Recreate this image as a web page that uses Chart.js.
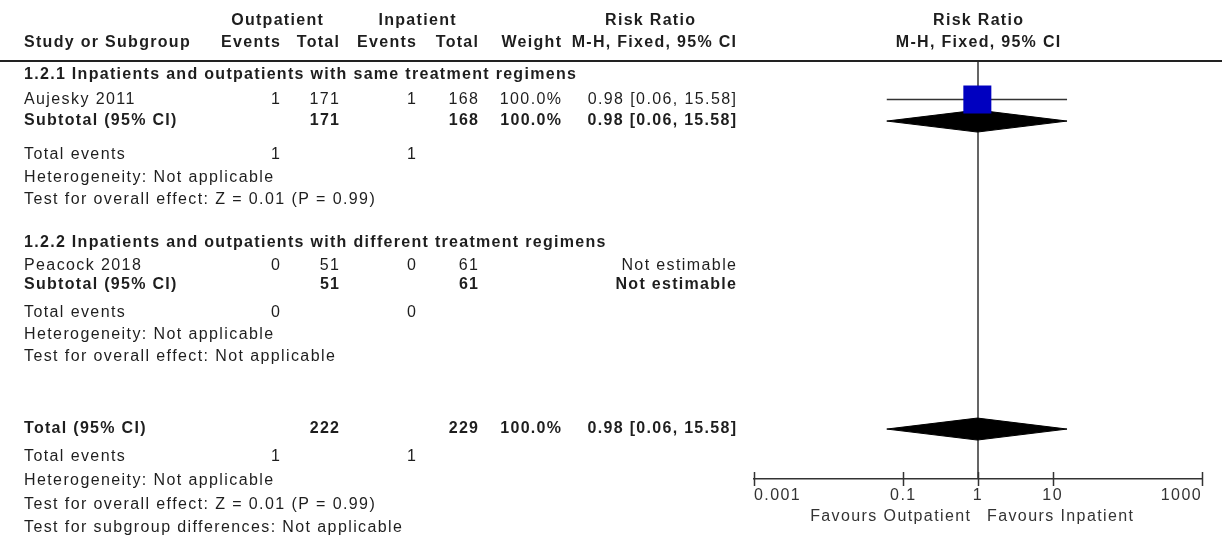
<!DOCTYPE html>
<html>
<head>
<meta charset="utf-8">
<title>Forest plot - Outpatient vs Inpatient</title>
<script src="https://cdn.jsdelivr.net/npm/chart.js@4.4.1/dist/chart.umd.min.js"></script>
<style>
  html, body { margin: 0; padding: 0; background: #fff; }
  #wrap { width: 1224px; height: 542px; position: relative; }
</style>
</head>
<body>
<div id="wrap"><canvas id="forest"></canvas></div>
<script>
// --- data ---
var tickValues = [0.001, 0.1, 1, 10, 1000];

var groupTitles = [
    "1.2.1 Inpatients and outpatients with same treatment regimens",
    "1.2.2 Inpatients and outpatients with different treatment regimens"
];
var groupTitleRows = [0.64, 8.27];

var studyNames = ["Aujesky 2011", "Peacock 2018"];
var studyRows = [1.75, 9.32];
var studyOutEvents = [1, 0];
var studyOutTotal = [171, 51];
var studyInEvents = [1, 0];
var studyInTotal = [168, 61];
var studyWeights = ["100.0%", ""];
var studyRR = [0.98, null];
var studyLower = [0.06, null];
var studyUpper = [15.58, null];

var subtotalLabels = ["Subtotal (95% CI)", "Subtotal (95% CI)", "Total (95% CI)"];
var subtotalRows = [2.73, 10.18, 16.73];
var subtotalOutTotal = [171, 51, 222];
var subtotalInTotal = [168, 61, 229];
var subtotalWeights = ["100.0%", "", "100.0%"];
var subtotalRR = [0.98, null, 0.98];
var subtotalLower = [0.06, null, 0.06];
var subtotalUpper = [15.58, null, 15.58];

var eventsRows = [4.27, 11.45, 18.0];
var eventsOut = [1, 0, 1];
var eventsIn = [1, 0, 1];

var noteRows = [5.32, 6.32, 12.45, 13.45, 19.09, 20.18, 21.23];
var noteTexts = [
    "Heterogeneity: Not applicable",
    "Test for overall effect: Z = 0.01 (P = 0.99)",
    "Heterogeneity: Not applicable",
    "Test for overall effect: Not applicable",
    "Heterogeneity: Not applicable",
    "Test for overall effect: Z = 0.01 (P = 0.99)",
    "Test for subgroup differences: Not applicable"
];

var headerRows = [-1.82, -0.82];
var favoursLabels = ["Favours Outpatient", "Favours Inpatient"];

// --- layout of the table columns (right edges, px) ---
var COL = { label: 24, outEv: 280, outTot: 339, inEv: 416, inTot: 478, weight: 561, ci: 736 };
var FONT = "'Liberation Sans', Arial, sans-serif";
var TEXT = "#1e1e1e";
var DIAMOND_H = 0.5;

function ciText(rr, lo, hi) {
    if (rr === null) return "Not estimable";
    return rr.toFixed(2) + " [" + lo.toFixed(2) + ", " + hi.toFixed(2) + "]";
}

function put(ctx, s, x, y, align, bold, color) {
    var ls = bold ? 1.3 : 1.4;
    ctx.font = (bold ? "bold " : "") + "16px " + FONT;
    ctx.letterSpacing = ls + "px";
    ctx.fillStyle = color || TEXT;
    ctx.textAlign = align;
    ctx.textBaseline = "middle";
    var dx = align === "right" ? ls : (align === "center" ? ls / 2 : 0);
    ctx.fillText(String(s), x + dx, y);
}

// --- datasets ---
var datasets = [];

// study squares
var squarePts = [];
studyRR.forEach(function(rr, i) { if (rr !== null) squarePts.push({ x: rr, y: studyRows[i] }); });
datasets.push({
    label: "Study", data: squarePts, pointStyle: "rect", pointRadius: 19.8,
    pointBackgroundColor: "#0000c0", pointBorderWidth: 0, showLine: false, order: 0
});

// study CI whiskers
studyRR.forEach(function(rr, i) {
    if (rr === null) return;
    datasets.push({
        label: studyNames[i] + " CI",
        data: [{ x: studyLower[i], y: studyRows[i] }, { x: studyUpper[i], y: studyRows[i] }],
        showLine: true, borderColor: "#333", borderWidth: 1.5, pointRadius: 0, order: 2
    });
});

// pooled diamonds
subtotalRR.forEach(function(rr, i) {
    if (rr === null) return;
    var r = subtotalRows[i];
    datasets.push({
        label: subtotalLabels[i],
        data: [
            { x: subtotalLower[i], y: r }, { x: rr, y: r - DIAMOND_H },
            { x: subtotalUpper[i], y: r }, { x: rr, y: r + DIAMOND_H },
            { x: subtotalLower[i], y: r }
        ],
        showLine: true, fill: "shape", backgroundColor: "#000", borderColor: "#000",
        borderWidth: 1, pointRadius: 0, tension: 0, order: 1
    });
});

// line of no effect
datasets.push({
    label: "No effect", data: [{ x: 1, y: 0 }, { x: 1, y: 19 }],
    showLine: true, borderColor: "#333", borderWidth: 1.5, pointRadius: 0, order: 3
});

// --- table text + axis extras ---
var tablePlugin = {
    id: "forestTable",
    afterDraw: function(chart) {
        var ctx = chart.ctx, ys = chart.scales.y, xs = chart.scales.x, area = chart.chartArea;
        var Y = function(v) { return ys.getPixelForValue(v); };
        var x1 = xs.getPixelForValue(1);
        ctx.save();

        // header rule
        ctx.strokeStyle = "#222"; ctx.lineWidth = 2;
        ctx.beginPath(); ctx.moveTo(0, area.top); ctx.lineTo(chart.width - 2, area.top); ctx.stroke();

        // headers
        var h1 = Y(headerRows[0]), h2 = Y(headerRows[1]);
        put(ctx, "Outpatient", 277, h1, "center", true);
        put(ctx, "Inpatient", 417, h1, "center", true);
        put(ctx, "Risk Ratio", 650, h1, "center", true);
        put(ctx, "Risk Ratio", x1, h1, "center", true);
        put(ctx, "Study or Subgroup", COL.label, h2, "left", true);
        put(ctx, "Events", COL.outEv, h2, "right", true);
        put(ctx, "Total", COL.outTot, h2, "right", true);
        put(ctx, "Events", COL.inEv, h2, "right", true);
        put(ctx, "Total", COL.inTot, h2, "right", true);
        put(ctx, "Weight", COL.weight, h2, "right", true);
        put(ctx, "M-H, Fixed, 95% CI", COL.ci, h2, "right", true);
        put(ctx, "M-H, Fixed, 95% CI", x1, h2, "center", true);

        groupTitles.forEach(function(t, i) { put(ctx, t, COL.label, Y(groupTitleRows[i]), "left", true); });

        studyNames.forEach(function(n, i) {
            var y = Y(studyRows[i]);
            put(ctx, n, COL.label, y, "left", false);
            put(ctx, studyOutEvents[i], COL.outEv, y, "right", false);
            put(ctx, studyOutTotal[i], COL.outTot, y, "right", false);
            put(ctx, studyInEvents[i], COL.inEv, y, "right", false);
            put(ctx, studyInTotal[i], COL.inTot, y, "right", false);
            put(ctx, studyWeights[i], COL.weight, y, "right", false);
            put(ctx, ciText(studyRR[i], studyLower[i], studyUpper[i]), COL.ci, y, "right", false);
        });

        subtotalLabels.forEach(function(n, i) {
            var y = Y(subtotalRows[i]);
            put(ctx, n, COL.label, y, "left", true);
            put(ctx, subtotalOutTotal[i], COL.outTot, y, "right", true);
            put(ctx, subtotalInTotal[i], COL.inTot, y, "right", true);
            put(ctx, subtotalWeights[i], COL.weight, y, "right", true);
            put(ctx, ciText(subtotalRR[i], subtotalLower[i], subtotalUpper[i]), COL.ci, y, "right", true);
        });

        eventsRows.forEach(function(r, i) {
            var y = Y(r);
            put(ctx, "Total events", COL.label, y, "left", false);
            put(ctx, eventsOut[i], COL.outEv, y, "right", false);
            put(ctx, eventsIn[i], COL.inEv, y, "right", false);
        });

        noteTexts.forEach(function(t, i) { put(ctx, t, COL.label, Y(noteRows[i]), "left", false); });

        // axis tick marks crossing the axis line
        ctx.strokeStyle = "#333"; ctx.lineWidth = 1.5;
        tickValues.forEach(function(v) {
            var px = Math.round(xs.getPixelForValue(v)) + 0.5;
            ctx.beginPath(); ctx.moveTo(px, xs.top - 7); ctx.lineTo(px, xs.top + 7); ctx.stroke();
        });

        // favours labels
        var fy = xs.top + 38;
        put(ctx, favoursLabels[0], x1 - 8, fy, "right", false, "#333");
        put(ctx, favoursLabels[1], x1 + 9, fy, "left", false, "#333");
        ctx.restore();
    }
};

var letterSpacingPlugin = {
    id: "letterSpacing",
    beforeDraw: function(chart) { chart.ctx.letterSpacing = "1.4px"; }
};

Chart.defaults.font.family = FONT;

new Chart(document.getElementById("forest"), {
    type: "scatter",
    data: { datasets: datasets },
    options: {
        animation: false,
        responsive: true,
        maintainAspectRatio: false,
        layout: { padding: { left: 754, right: 22, top: 61, bottom: 0 } },
        scales: {
            x: {
                type: "logarithmic", min: 0.001, max: 1000, position: "bottom",
                afterBuildTicks: function(s) { s.ticks = tickValues.map(function(v) { return { value: v }; }); },
                afterFit: function(s) { s.height = 63; },
                grid: { display: false, drawTicks: false },
                border: { display: true, color: "#333", width: 1.5 },
                ticks: {
                    align: "inner", autoSkip: false, maxRotation: 0, padding: 7,
                    color: "#333", font: { size: 16 },
                    callback: function(v) { return String(v); }
                }
            },
            y: { type: "linear", min: 0, max: 19, reverse: true, display: false }
        },
        plugins: { legend: { display: false }, tooltip: { enabled: false } }
    },
    plugins: [letterSpacingPlugin, tablePlugin]
});
</script>
</body>
</html>
